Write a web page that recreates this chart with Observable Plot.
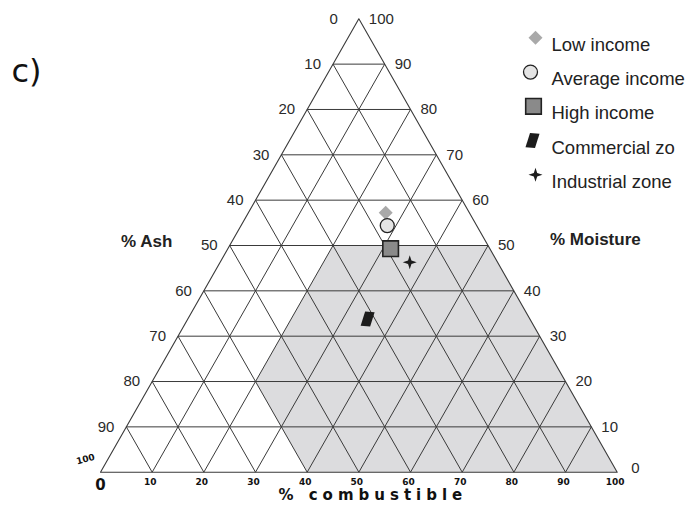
<!DOCTYPE html>
<html>
<head>
<meta charset="utf-8">
<script src="https://cdn.jsdelivr.net/npm/d3@7"></script>
<script src="https://cdn.jsdelivr.net/npm/@observablehq/plot@0.6"></script>
<style>
  html, body { margin: 0; padding: 0; background: #fff; }
  #chart svg { display: block; }
</style>
</head>
<body>
<div id="chart"></div>
<script>
// ---- Data ----
const groups = ["Low income", "Average income", "High income", "Commercial zo", "Industrial zone"];
const combustible = [26.6, 28.3, 31.5, 34.8, 36.7];
const moisture = [57.2, 54.4, 49.3, 33.8, 46.3];
const ash = [16.2, 17.3, 19.2, 31.4, 17.0];

const gridTicks = [10, 20, 30, 40, 50, 60, 70, 80, 90];
const ashTickLabels = ["10", "20", "30", "40", "50", "60", "70", "80", "90"];
const moistureTickLabels = ["90", "80", "70", "60", "50", "40", "30", "20", "10"];
const combustibleTicks = [0, 10, 20, 30, 40, 50, 60, 70, 80, 90, 100];

// combustibility zone: moisture <= 50, ash <= 60, combustible >= 20
const zoneCombustible = [20, 50, 100, 40, 20, 20];
const zoneMoisture = [50, 50, 0, 0, 20, 50];

// ---- helpers: ternary (combustible, moisture) -> plot x / y ----
const tx = (c, m) => c + m / 2;

const points = groups.map((g, i) => ({group: g, c: combustible[i], m: moisture[i], a: ash[i]}));
const zone = zoneCombustible.map((c, i) => ({c, m: zoneMoisture[i]}));
const outline = [{c: 0, m: 0}, {c: 100, m: 0}, {c: 0, m: 100}, {c: 0, m: 0}];

const links = [];
for (const k of gridTicks) {
  links.push({c1: 0, m1: k, c2: 100 - k, m2: k});          // constant moisture
  links.push({c1: k, m1: 0, c2: k, m2: 100 - k});          // constant combustible
  links.push({c1: 100 - k, m1: 0, c2: 0, m2: 100 - k});    // constant ash
}
const leftLabels = gridTicks.map((k, i) => ({c: 0, m: 100 - k, label: ashTickLabels[i]}));
const rightLabels = gridTicks.map((k, i) => ({c: k, m: 100 - k, label: moistureTickLabels[i]}));
const bottomLabels = combustibleTicks.map(k => ({c: k, m: 0, label: String(k)}));

// custom symbols
const parallelogram = {
  draw(ctx, size) {
    const r = Math.sqrt(size / Math.PI) / 7.5;
    ctx.moveTo(-2.5 * r, -7.5 * r);
    ctx.lineTo(7 * r, -6.8 * r);
    ctx.lineTo(2.5 * r, 7.5 * r);
    ctx.lineTo(-7 * r, 6.8 * r);
    ctx.closePath();
  }
};
const star4 = {
  draw(ctx, size) {
    const R = Math.sqrt(size / Math.PI);
    const ri = R * 0.34;
    for (let i = 0; i < 8; i++) {
      const ang = -Math.PI / 2 + i * Math.PI / 4;
      const rr = i % 2 === 0 ? R : ri;
      const px = rr * Math.cos(ang), py = rr * Math.sin(ang);
      if (i === 0) ctx.moveTo(px, py); else ctx.lineTo(px, py);
    }
    ctx.closePath();
  }
};

const styles = [
  {symbol: "diamond2", r: 6.3, fill: "#a9a9a9", stroke: "none", strokeWidth: 0},
  {symbol: "circle", r: 7, fill: "#e4e4e4", stroke: "#222", strokeWidth: 1.3},
  {symbol: "square", r: 8.8, fill: "#8a8a8a", stroke: "#222", strokeWidth: 1.6},
  {symbol: parallelogram, r: 7.5, fill: "#1c1c1c", stroke: "none", strokeWidth: 0},
  {symbol: star4, r: 7, fill: "#1c1c1c", stroke: "none", strokeWidth: 0}
];
const legendMarkerDx = [435, 430, 433, 432, 435];

const labelFont = "Liberation Sans, Arial, Helvetica, sans-serif";
const handFont = "DejaVu Sans, sans-serif";

const marks = [
  Plot.line(zone, {x: d => tx(d.c, d.m), y: "m", fill: "#dcdcde", stroke: "none"}),
  Plot.link(links, {
    x1: d => tx(d.c1, d.m1), y1: "m1", x2: d => tx(d.c2, d.m2), y2: "m2",
    stroke: "#3a3a3a", strokeWidth: 1
  }),
  Plot.line(outline, {x: d => tx(d.c, d.m), y: "m", stroke: "#3a3a3a", strokeWidth: 1.1}),
  // tick labels
  Plot.text(leftLabels, {x: d => tx(d.c, d.m), y: "m", text: "label", textAnchor: "end", dx: -12,
    fontSize: 15, fill: "#2a2a2a", fontFamily: labelFont}),
  Plot.text(rightLabels, {x: d => tx(d.c, d.m), y: "m", text: "label", textAnchor: "start", dx: 10,
    fontSize: 15, fill: "#2a2a2a", fontFamily: labelFont}),
  Plot.text([{c: 0, m: 100, label: "0"}], {x: d => tx(d.c, d.m), y: "m", text: "label", textAnchor: "end", dx: -21,
    fontSize: 15, fill: "#2a2a2a", fontFamily: labelFont}),
  Plot.text([{c: 0, m: 100, label: "100"}], {x: d => tx(d.c, d.m), y: "m", text: "label", textAnchor: "start", dx: 10,
    fontSize: 15, fill: "#2a2a2a", fontFamily: labelFont}),
  Plot.text([{c: 100, m: 0, label: "0"}], {x: d => tx(d.c, d.m), y: "m", text: "label", textAnchor: "start", dx: 14, dy: -4,
    fontSize: 15, fill: "#2a2a2a", fontFamily: labelFont}),
  // handwritten bottom labels
  Plot.text(bottomLabels.filter(d => d.c > 0), {x: d => tx(d.c, d.m), y: "m", text: "label", dy: 10, dx: -2,
    fontSize: 9, fontWeight: "bold", fill: "#111", fontFamily: handFont}),
  Plot.text([{c: 0, m: 0, label: "0"}], {x: d => tx(d.c, d.m), y: "m", text: "label", dy: 13,
    fontSize: 15, fontWeight: "bold", fill: "#111", fontFamily: handFont}),
  Plot.text([{c: 0, m: 0, label: "100"}], {x: d => tx(d.c, d.m), y: "m", text: "label", dx: -15, dy: -13, rotate: -15,
    fontSize: 9, fontWeight: "bold", fill: "#111", fontFamily: handFont}),
  Plot.text(["% combustible"], {frameAnchor: "bottom", text: d => d, dx: 14, dy: 28,
    fontSize: 15, fill: "#111", fontFamily: handFont, fontWeight: "bold"}),
  Plot.text(["c)"], {frameAnchor: "top-left", text: d => d, textAnchor: "start", dx: -89, dy: 40,
    fontSize: 32, fill: "#111", fontFamily: handFont}),
  // axis titles
  Plot.text([{c: 0, m: 50, label: "% Ash"}], {x: d => tx(d.c, d.m), y: "m", text: "label", textAnchor: "middle", dx: -83, dy: -4,
    fontSize: 17, fontWeight: "bold", fill: "#222", fontFamily: labelFont}),
  Plot.text([{c: 50, m: 50, label: "% Moisture"}], {x: d => tx(d.c, d.m), y: "m", text: "label", textAnchor: "start", dx: 62, dy: -6,
    fontSize: 17, fontWeight: "bold", fill: "#222", fontFamily: labelFont}),
];

// data points
points.forEach((p, i) => {
  const s = styles[i];
  marks.push(Plot.dot([p], {x: d => tx(d.c, d.m), y: "m", symbol: s.symbol, r: s.r,
    fill: s.fill, stroke: s.stroke, strokeWidth: s.strokeWidth}));
});

// legend
groups.forEach((g, i) => {
  const s = styles[i];
  const dy = 19 + i * 34.25;
  marks.push(Plot.dot([g], {frameAnchor: "top-left", dx: legendMarkerDx[i], dy, symbol: s.symbol, r: s.r,
    fill: s.fill, stroke: s.stroke, strokeWidth: s.strokeWidth}));
  marks.push(Plot.text([g], {frameAnchor: "top-left", dx: 451, dy, text: d => d, textAnchor: "start",
    fontSize: 18.5, fill: "#222", fontFamily: labelFont}));
});

const chart = Plot.plot({
  width: 693,
  height: 510,
  marginLeft: 100,
  marginRight: 76.3,
  marginTop: 18.3,
  marginBottom: 38.3,
  x: {domain: [0, 100], axis: null},
  y: {domain: [0, 100], axis: null},
  style: {background: "#fff", fontFamily: labelFont, overflow: "visible"},
  marks
});
// widen the hand-lettered axis title like the reference
d3.select(chart).selectAll("text")
  .filter(function() { return this.textContent === "% combustible"; })
  .attr("letter-spacing", 5);
document.getElementById("chart").appendChild(chart);
</script>
</body>
</html>
